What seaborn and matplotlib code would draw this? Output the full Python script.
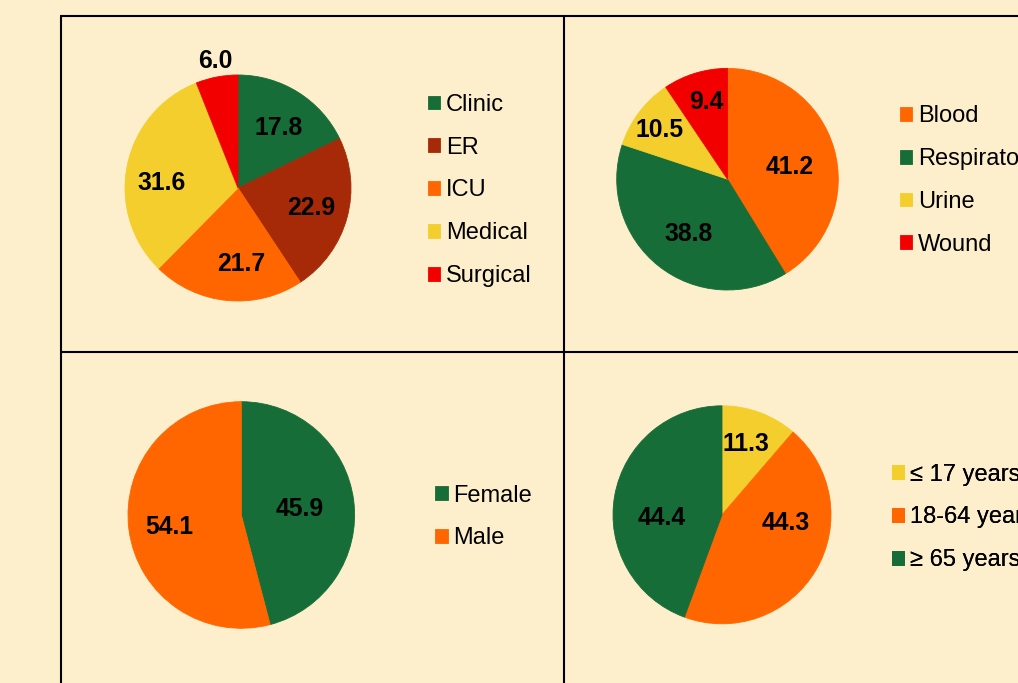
import matplotlib
matplotlib.use("Agg")
import matplotlib.pyplot as plt
import seaborn as sns
import numpy as np

# ---------------- data ----------------
ward_labels = ["Clinic", "ER", "ICU", "Medical", "Surgical"]
ward_values = [17.8, 22.9, 21.7, 31.6, 6.0]

source_labels = ["Blood", "Respiratory", "Urine", "Wound"]
source_values = [41.2, 38.8, 10.5, 9.4]

sex_labels = ["Female", "Male"]
sex_values = [45.9, 54.1]

age_labels = ["≤ 17 years", "18-64 years", "≥ 65 years"]
age_values = [11.3, 44.3, 44.4]

# ---------------- style ----------------
GREEN = "#166D38"
BROWN = "#A62A08"
ORANGE = "#FF6600"
YELLOW = "#F4CE2C"
RED = "#F20000"
BG = "#FDEFCB"

sns.set_theme(style="white")
plt.rcParams["font.family"] = ["Liberation Sans", "DejaVu Sans"]
plt.rcParams["text.color"] = "black"
plt.rcParams["legend.labelcolor"] = "black"

W, H = 1018, 683
fig = plt.figure(figsize=(W / 100, H / 100), dpi=100, facecolor=BG)
ax = fig.add_axes([0, 0, 1, 1])


def Y(y):
    return H - y


panels = [
    dict(labels=ward_labels, values=ward_values,
         colors=sns.color_palette([GREEN, BROWN, ORANGE, YELLOW, RED]),
         center=(238, 188), radius=113,
         label_pos=[(0.64, -2), (0.67, 0), (0.67, 8), (0.68, 7.5), (1.14, -0.6)],
         legend_xy=(428, 190.5)),
    dict(labels=source_labels, values=source_values,
         colors=sns.color_palette([ORANGE, GREEN, YELLOW, RED]),
         center=(727.5, 179.2), radius=110.8,
         label_pos=[(0.575, -4.5), (0.61, 2.7), (0.755, 1.5), (0.72, -1.3)],
         legend_xy=(900, 180.5)),
    dict(labels=sex_labels, values=sex_values,
         colors=sns.color_palette([GREEN, ORANGE]),
         center=(241.3, 515), radius=113.3,
         label_pos=[(0.515, -1.8), (0.64, 2.4)],
         legend_xy=(435.5, 517)),
    dict(labels=age_labels, values=age_values,
         colors=sns.color_palette([YELLOW, ORANGE, GREEN]),
         center=(722, 514.8), radius=109,
         label_pos=[(0.69, 1.7), (0.585, 23.3), (0.555, 13.4)],
         legend_xy=(892, 517.5)),
]

for p in panels:
    cx, cy = p["center"]
    R = p["radius"]
    wedges, _ = ax.pie(p["values"], colors=p["colors"], startangle=90,
                       counterclock=False, center=(cx, Y(cy)), radius=R,
                       frame=True, wedgeprops=dict(linewidth=0.6))
    for w in wedges:
        w.set_edgecolor(w.get_facecolor())
    for w, v, (frac, shift) in zip(wedges, p["values"], p["label_pos"]):
        mid = np.deg2rad((w.theta1 + w.theta2) / 2 + shift)
        ax.text(cx + frac * R * np.cos(mid), Y(cy) + frac * R * np.sin(mid),
                f"{v:.1f}", ha="center", va="center", fontsize=17.8,
                fontweight="bold", color="black")
    lx, ly = p["legend_xy"]
    leg = ax.legend(handles=wedges, labels=p["labels"], loc="center left",
                    bbox_to_anchor=(lx, Y(ly)), bbox_transform=ax.transData,
                    frameon=False, fontsize=17, handlelength=0.52,
                    handleheight=0.52, handletextpad=0.24, labelspacing=0.88,
                    borderpad=0, borderaxespad=0, labelcolor="black")
    ax.add_artist(leg)

# panel grid lines
lw = 1.5
ax.plot([61, 61], [Y(16), Y(720)], color="black", lw=lw, solid_capstyle="butt")
ax.plot([563.7, 563.7], [Y(16), Y(720)], color="black", lw=lw, solid_capstyle="butt")
ax.plot([60.3, 1100], [Y(16), Y(16)], color="black", lw=lw, solid_capstyle="butt")
ax.plot([60.3, 1100], [Y(352), Y(352)], color="black", lw=lw, solid_capstyle="butt")

ax.set_xlim(0, W)
ax.set_ylim(0, H)
ax.axis("off")

fig.savefig("out.png", dpi=100, facecolor=BG)
